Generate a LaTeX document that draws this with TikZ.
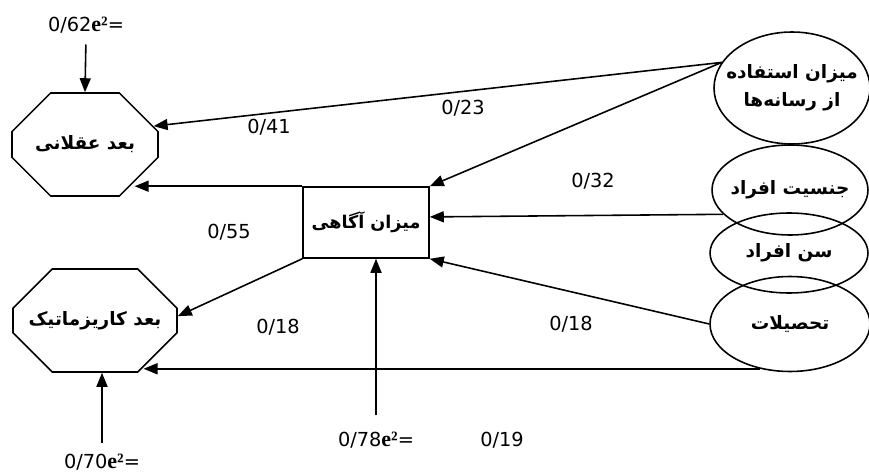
\documentclass[tikz,border=0pt]{standalone}
\usepackage{fontspec}
\setmainfont{DejaVu Sans}
\newfontfamily\faFont[Script=Arabic]{DejaVu Sans}
\newfontfamily\eFont{Liberation Serif}
\usetikzlibrary{arrows.meta,shapes.geometric,shapes.misc,calc}
\TeXXeTstate=1
\newcommand{\fa}[1]{{\faFont\bfseries\beginR #1\endR}}
\newcommand{\faLine}[1]{\makebox[0pt][c]{\fa{#1}}}
\newcommand{\errTerm}[1]{#1{\eFont\bfseries\fontsize{12.5}{13}\selectfont e²}=}
\tikzset{
  octBox/.style={chamfered rectangle,draw,line width=0.9pt,chamfered rectangle xsep=0.6cm,chamfered rectangle ysep=0.6cm,inner sep=0pt,font=\fontsize{10.5}{13}\selectfont},
  mediatorBox/.style={rectangle,draw,line width=0.9pt,inner sep=0pt,font=\fontsize{10}{13}\selectfont},
  varEllipse/.style={ellipse,draw,line width=0.9pt,inner sep=0pt,align=center,font=\fontsize{10.5}{16}\selectfont},
  coefLabel/.style={inner sep=2pt,font=\fontsize{11}{12}\selectfont},
  pathArrow/.style={line width=0.9pt,-{Triangle[length=2.8mm,width=2.2mm]}}
}
\begin{document}
\begin{tikzpicture}[x=0.02cm,y=-0.02cm]
\path[use as bounding box] (0,0) rectangle (869,473);

% outcome dimensions
\node[octBox,minimum width=2.92cm,minimum height=2.06cm] (aqlani) at (85,144.5) {\fa{بعد عقلانی}};
\node[octBox,minimum width=3.28cm,minimum height=2.06cm] (karizma) at (95,320.5) {\fa{بعد کاریزماتیک}};

% mediator
\node[mediatorBox,minimum width=2.52cm,minimum height=1.42cm] (agahi) at (366,222.5) {\fa{میزان آگاهی}};

% predictors
\node[varEllipse,minimum width=3.12cm,minimum height=2.24cm] (resane) at (792,88) {\faLine{میزان استفاده}\\\faLine{از رسانه‌ها}};
\node[varEllipse,minimum width=3.12cm,minimum height=1.8cm] (jensiat) at (790,190) {\faLine{جنسیت افراد}};
\node[varEllipse,minimum width=3.16cm,minimum height=1.6cm] (sen) at (789,253) {\faLine{سن افراد}};
\node[varEllipse,minimum width=3.2cm,minimum height=1.9cm] (tahsil) at (790,324) {\faLine{تحصیلات}};

% residual terms
\node[coefLabel] (resAqlani) at (86,25) {\errTerm{0/62}};
\node[coefLabel] (resKarizma) at (102,462) {\errTerm{0/70}};
\node[coefLabel] (resAgahi) at (376,440) {\errTerm{0/78}};

% path coefficients
\node[coefLabel] (cResAql) at (269,127) {0/41};
\node[coefLabel] (cResAga) at (463,108) {0/23};
\node[coefLabel] (cJenAga) at (593,181) {0/32};
\node[coefLabel] (cAgaAql) at (229,232) {0/55};
\node[coefLabel] (cAgaKar) at (278,327) {0/18};
\node[coefLabel] (cTahAga) at (571,324) {0/18};
\node[coefLabel] (cTahKar) at (502,440) {0/19};

% paths
\draw[pathArrow] (resane.160) -- (aqlani.15);
\draw[pathArrow] (resane.160) -- (agahi.north east);
\draw[pathArrow] (jensiat.200) -- (agahi.5);
\draw[pathArrow] (tahsil.west) -- (agahi.south east);
\draw[pathArrow] (tahsil.236) -- (tahsil.236 -| karizma.-44);
\draw[pathArrow] (agahi.north west) -- (agahi.north west -| aqlani.-37);
\draw[pathArrow] (agahi.south west) -- (karizma.3);

% residual arrows
\draw[pathArrow,shorten <=0.15cm] (resAqlani.south) -- (aqlani.north);
\draw[pathArrow,shorten <=0.14cm] (resKarizma.north) -- (resKarizma.north |- karizma.south);
\draw[pathArrow,shorten <=0.26cm] (resAgahi.north) -- (resAgahi.north |- agahi.south);
\end{tikzpicture}
\end{document}
